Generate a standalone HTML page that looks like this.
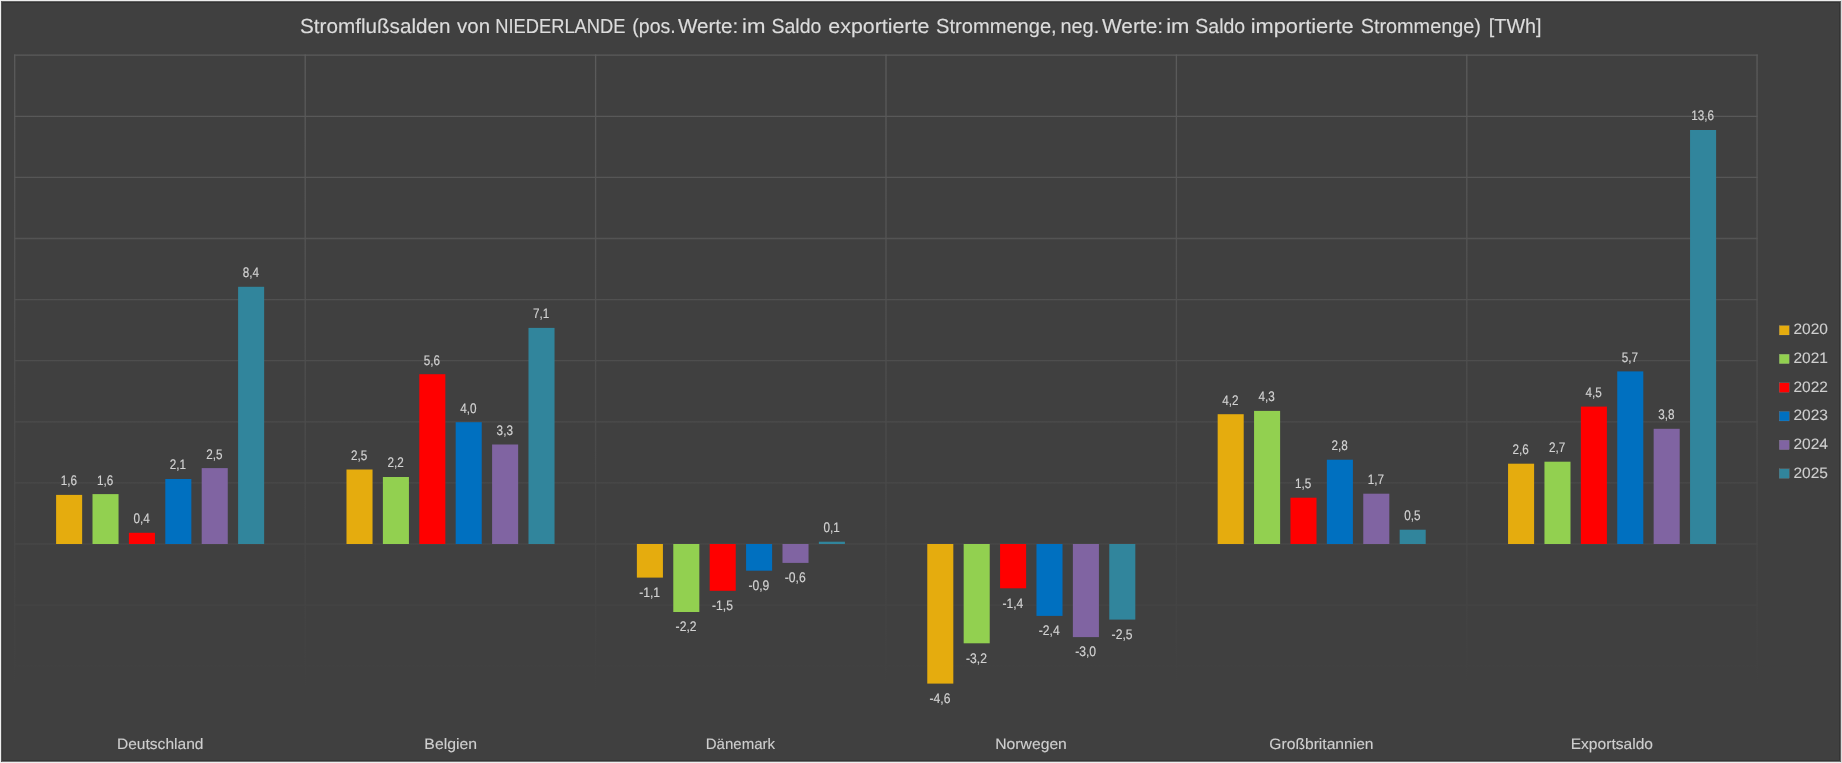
<!DOCTYPE html>
<html><head><meta charset="utf-8"><title>Stromflußsalden von NIEDERLANDE</title>
<style>html,body{margin:0;padding:0;background:#404040;overflow:hidden}svg{display:block}text{font-family:"Liberation Sans",sans-serif;text-rendering:geometricPrecision}</style></head><body>
<svg style="will-change:transform" width="1842" height="763" viewBox="0 0 1842 763">
<defs><linearGradient id="gl" gradientUnits="userSpaceOnUse" x1="0" y1="55" x2="0" y2="690"><stop offset="0" stop-color="#5b5b5b"/><stop offset="1" stop-color="#404040"/></linearGradient></defs>
<rect x="0" y="0" width="1842" height="763" fill="#404040"/>
<g stroke="url(#gl)" stroke-width="1.3" fill="none" stroke-linecap="square">
<path d="M14.70 55.1V700"/>
<path d="M305.20 55.1V700"/>
<path d="M595.60 55.1V700"/>
<path d="M886.00 55.1V700"/>
<path d="M1176.40 55.1V700"/>
<path d="M1466.80 55.1V700"/>
<path d="M1757.05 55.1V700"/>
<path d="M14.70 55.20H1757.05"/>
<path d="M14.70 116.30H1757.05"/>
<path d="M14.70 177.40H1757.05"/>
<path d="M14.70 238.50H1757.05"/>
<path d="M14.70 299.60H1757.05"/>
<path d="M14.70 360.70H1757.05"/>
<path d="M14.70 421.80H1757.05"/>
<path d="M14.70 482.90H1757.05"/>
<path d="M14.70 544.00H1757.05"/>
<path d="M14.70 605.10H1757.05"/>
<path d="M14.70 666.20H1757.05"/>
</g>
<rect x="56.10" y="494.90" width="26.05" height="49.10" fill="#E5AC0E"/>
<rect x="92.50" y="494.10" width="26.05" height="49.90" fill="#92D050"/>
<rect x="128.90" y="532.80" width="26.05" height="11.20" fill="#FF0000"/>
<rect x="165.30" y="479.00" width="26.05" height="65.00" fill="#0070C0"/>
<rect x="201.70" y="468.10" width="26.05" height="75.90" fill="#8064A2"/>
<rect x="238.10" y="286.80" width="26.05" height="257.20" fill="#31859C"/>
<rect x="346.49" y="469.50" width="26.05" height="74.50" fill="#E5AC0E"/>
<rect x="382.89" y="477.00" width="26.05" height="67.00" fill="#92D050"/>
<rect x="419.29" y="374.20" width="26.05" height="169.80" fill="#FF0000"/>
<rect x="455.69" y="422.20" width="26.05" height="121.80" fill="#0070C0"/>
<rect x="492.09" y="444.50" width="26.05" height="99.50" fill="#8064A2"/>
<rect x="528.49" y="327.90" width="26.05" height="216.10" fill="#31859C"/>
<rect x="636.88" y="544.00" width="26.05" height="33.60" fill="#E5AC0E"/>
<rect x="673.28" y="544.00" width="26.05" height="68.00" fill="#92D050"/>
<rect x="709.68" y="544.00" width="26.05" height="46.80" fill="#FF0000"/>
<rect x="746.08" y="544.00" width="26.05" height="26.70" fill="#0070C0"/>
<rect x="782.48" y="544.00" width="26.05" height="18.90" fill="#8064A2"/>
<rect x="818.88" y="541.70" width="26.05" height="2.30" fill="#31859C"/>
<rect x="927.27" y="544.00" width="26.05" height="139.60" fill="#E5AC0E"/>
<rect x="963.67" y="544.00" width="26.05" height="99.30" fill="#92D050"/>
<rect x="1000.07" y="544.00" width="26.05" height="44.30" fill="#FF0000"/>
<rect x="1036.47" y="544.00" width="26.05" height="71.90" fill="#0070C0"/>
<rect x="1072.87" y="544.00" width="26.05" height="93.10" fill="#8064A2"/>
<rect x="1109.27" y="544.00" width="26.05" height="75.60" fill="#31859C"/>
<rect x="1217.66" y="414.20" width="26.05" height="129.80" fill="#E5AC0E"/>
<rect x="1254.06" y="410.90" width="26.05" height="133.10" fill="#92D050"/>
<rect x="1290.46" y="497.70" width="26.05" height="46.30" fill="#FF0000"/>
<rect x="1326.86" y="459.70" width="26.05" height="84.30" fill="#0070C0"/>
<rect x="1363.26" y="493.70" width="26.05" height="50.30" fill="#8064A2"/>
<rect x="1399.66" y="529.70" width="26.05" height="14.30" fill="#31859C"/>
<rect x="1508.05" y="463.70" width="26.05" height="80.30" fill="#E5AC0E"/>
<rect x="1544.45" y="461.70" width="26.05" height="82.30" fill="#92D050"/>
<rect x="1580.85" y="406.60" width="26.05" height="137.40" fill="#FF0000"/>
<rect x="1617.25" y="371.40" width="26.05" height="172.60" fill="#0070C0"/>
<rect x="1653.65" y="428.80" width="26.05" height="115.20" fill="#8064A2"/>
<rect x="1690.05" y="130.00" width="26.05" height="414.00" fill="#31859C"/>
<g fill="#d2d2d2" font-size="13.80" text-anchor="middle" stroke="#d2d2d2" stroke-width="0.18">
<text transform="translate(68.78 485.30) scale(0.850 1)">1,6</text>
<text transform="translate(105.18 484.50) scale(0.850 1)">1,6</text>
<text transform="translate(141.57 523.20) scale(0.850 1)">0,4</text>
<text transform="translate(177.97 469.40) scale(0.850 1)">2,1</text>
<text transform="translate(214.38 458.50) scale(0.850 1)">2,5</text>
<text transform="translate(250.78 277.20) scale(0.850 1)">8,4</text>
<text transform="translate(359.16 459.90) scale(0.850 1)">2,5</text>
<text transform="translate(395.56 467.40) scale(0.850 1)">2,2</text>
<text transform="translate(431.96 364.60) scale(0.850 1)">5,6</text>
<text transform="translate(468.36 412.60) scale(0.850 1)">4,0</text>
<text transform="translate(504.76 434.90) scale(0.850 1)">3,3</text>
<text transform="translate(541.16 318.30) scale(0.850 1)">7,1</text>
<text transform="translate(649.65 596.80) scale(0.880 1)">-1,1</text>
<text transform="translate(686.05 631.20) scale(0.880 1)">-2,2</text>
<text transform="translate(722.45 610.00) scale(0.880 1)">-1,5</text>
<text transform="translate(758.85 589.90) scale(0.880 1)">-0,9</text>
<text transform="translate(795.25 582.10) scale(0.880 1)">-0,6</text>
<text transform="translate(831.55 532.10) scale(0.850 1)">0,1</text>
<text transform="translate(940.04 702.80) scale(0.880 1)">-4,6</text>
<text transform="translate(976.44 662.50) scale(0.880 1)">-3,2</text>
<text transform="translate(1012.84 607.50) scale(0.880 1)">-1,4</text>
<text transform="translate(1049.25 635.10) scale(0.880 1)">-2,4</text>
<text transform="translate(1085.65 656.30) scale(0.880 1)">-3,0</text>
<text transform="translate(1122.05 638.80) scale(0.880 1)">-2,5</text>
<text transform="translate(1230.34 404.60) scale(0.850 1)">4,2</text>
<text transform="translate(1266.74 401.30) scale(0.850 1)">4,3</text>
<text transform="translate(1303.14 488.10) scale(0.850 1)">1,5</text>
<text transform="translate(1339.54 450.10) scale(0.850 1)">2,8</text>
<text transform="translate(1375.93 484.10) scale(0.850 1)">1,7</text>
<text transform="translate(1412.34 520.10) scale(0.850 1)">0,5</text>
<text transform="translate(1520.72 454.10) scale(0.850 1)">2,6</text>
<text transform="translate(1557.12 452.10) scale(0.850 1)">2,7</text>
<text transform="translate(1593.53 397.00) scale(0.850 1)">4,5</text>
<text transform="translate(1629.93 361.80) scale(0.850 1)">5,7</text>
<text transform="translate(1666.32 419.20) scale(0.850 1)">3,8</text>
<text transform="translate(1702.72 120.40) scale(0.850 1)">13,6</text>
</g>
<g fill="#cfcfcf" font-size="15.07" stroke="#cfcfcf" stroke-width="0.12">
<text transform="translate(116.98 749.1) scale(1.0324 1)">Deutschland</text>
<text transform="translate(424.37 749.1) scale(1.0487 1)">Belgien</text>
<text transform="translate(705.73 749.1) scale(0.9975 1)">Dänemark</text>
<text transform="translate(995.27 749.1) scale(1.0425 1)">Norwegen</text>
<text transform="translate(1269.37 749.1) scale(1.0368 1)">Großbritannien</text>
<text transform="translate(1570.68 749.1) scale(1.0348 1)">Exportsaldo</text>
</g>
<g fill="#cfcfcf" font-size="15.07" stroke="#cfcfcf" stroke-width="0.12">
<rect x="1779.3" y="325.60" width="9.9" height="9.4" fill="#E5AC0E"/>
<text transform="translate(1793.47 334.30) scale(1.0295 1)">2020</text>
<rect x="1779.3" y="354.26" width="9.9" height="9.4" fill="#92D050"/>
<text transform="translate(1793.47 362.96) scale(1.0295 1)">2021</text>
<rect x="1779.3" y="382.92" width="9.9" height="9.4" fill="#FF0000"/>
<text transform="translate(1793.47 391.62) scale(1.0295 1)">2022</text>
<rect x="1779.3" y="411.58" width="9.9" height="9.4" fill="#0070C0"/>
<text transform="translate(1793.47 420.28) scale(1.0295 1)">2023</text>
<rect x="1779.3" y="440.24" width="9.9" height="9.4" fill="#8064A2"/>
<text transform="translate(1793.47 448.94) scale(1.0295 1)">2024</text>
<rect x="1779.3" y="468.90" width="9.9" height="9.4" fill="#31859C"/>
<text transform="translate(1793.47 477.60) scale(1.0295 1)">2025</text>
</g>
<g fill="#dcdcdc" font-size="20.30" stroke="#dcdcdc" stroke-width="0.15">
<text transform="translate(300.05 32.6) scale(1.0190 1)">Stromflußsalden</text>
<text transform="translate(457.10 32.6) scale(1.0098 1)">von</text>
<text transform="translate(495.27 32.6) scale(0.9024 1)">NIEDERLANDE</text>
<text transform="translate(632.28 32.6) scale(0.9635 1)">(pos.</text>
<text transform="translate(677.90 32.6) scale(1.0177 1)">Werte:</text>
<text transform="translate(742.11 32.6) scale(1.0942 1)">im</text>
<text transform="translate(771.49 32.6) scale(0.9611 1)">Saldo</text>
<text transform="translate(828.33 32.6) scale(1.0534 1)">exportierte</text>
<text transform="translate(936.07 32.6) scale(0.9908 1)">Strommenge,</text>
<text transform="translate(1060.46 32.6) scale(0.9806 1)">neg.</text>
<text transform="translate(1102.00 32.6) scale(1.0281 1)">Werte:</text>
<text transform="translate(1166.13 32.6) scale(1.0837 1)">im</text>
<text transform="translate(1195.29 32.6) scale(0.9611 1)">Saldo</text>
<text transform="translate(1250.64 32.6) scale(1.0757 1)">importierte</text>
<text transform="translate(1360.68 32.6) scale(0.9787 1)">Strommenge)</text>
<text transform="translate(1488.86 32.6) scale(0.9736 1)">[TWh]</text>
</g>
<g shape-rendering="crispEdges">
<rect x="2" y="2" width="1838" height="1" fill="#343434"/><rect x="2" y="760" width="1838" height="1" fill="#343434"/>
<rect x="2" y="2" width="1" height="759" fill="#3a3a3a"/><rect x="1839" y="2" width="1" height="759" fill="#343434"/>
<rect x="1" y="1" width="1840" height="1" fill="#606060"/><rect x="1" y="761" width="1840" height="1" fill="#707070"/>
<rect x="1" y="1" width="1" height="761" fill="#555555"/><rect x="1840" y="1" width="1" height="761" fill="#606060"/>
<rect x="0" y="0" width="1842" height="1" fill="#eeeeee"/><rect x="0" y="762" width="1842" height="1" fill="#eeeeee"/>
<rect x="0" y="0" width="1" height="763" fill="#f0f0f0"/><rect x="1841" y="0" width="1" height="763" fill="#dddddd"/>
</g>
</svg></body></html>
